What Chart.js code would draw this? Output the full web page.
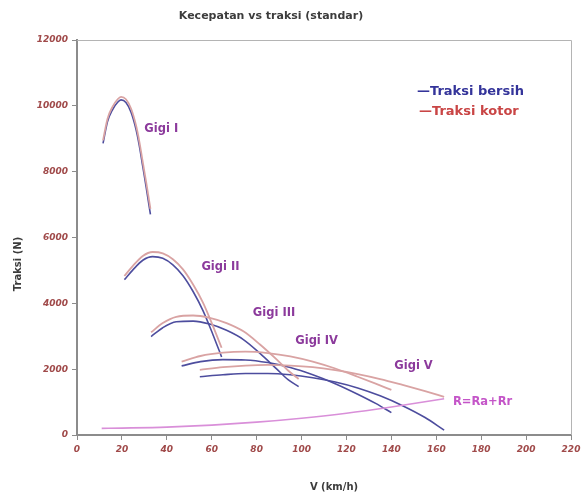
<!DOCTYPE html>
<html>
<head>
<meta charset="utf-8">
<script src="https://cdn.jsdelivr.net/npm/chart.js@4/dist/chart.umd.min.js"></script>
<style>
  html, body { margin: 0; padding: 0; background: #ffffff; }
  #wrap { width: 585px; height: 495px; }
</style>
</head>
<body>
<div id="wrap"><canvas id="c" width="585" height="495"></canvas></div>
<script>
// Kecepatan (km/h) dan traksi (N) per gigi
const gear1Speed  = [11.6, 13.6, 15.8, 18.1, 19.6, 21.8, 24.1, 26.3, 27.8, 29.3, 30.8, 32.7];
const gear1Kotor  = [8950, 9610, 9970, 10200, 10270, 10200, 9910, 9400, 8900, 8290, 7680, 6870];
const gear1Bersih = [8860, 9520, 9880, 10110, 10180, 10100, 9800, 9280, 8770, 8150, 7530, 6700];

const gear2Speed  = [21.1, 24.8, 29.3, 33.7, 38.2, 42.7, 47.2, 51.7, 56.1, 60.6, 64.4];
const gear2Kotor  = [4830, 5130, 5440, 5560, 5520, 5340, 5030, 4570, 4020, 3300, 2650];
const gear2Bersih = [4720, 5010, 5310, 5420, 5370, 5170, 4840, 4360, 3780, 3040, 2370];

const gear3Speed  = [33.0, 38.2, 44.2, 51.7, 59.1, 66.6, 74.1, 81.5, 89.0, 94.0, 98.7];
const gear3Kotor  = [3120, 3400, 3590, 3630, 3560, 3400, 3150, 2750, 2290, 1960, 1700];
const gear3Bersih = [2990, 3260, 3440, 3460, 3370, 3180, 2900, 2480, 2000, 1680, 1470];

const gear4Speed  = [46.6, 55, 65, 75, 85, 95, 105, 115, 125, 133, 140];
const gear4Kotor  = [2230, 2400, 2500, 2530, 2490, 2390, 2230, 2020, 1770, 1560, 1370];
const gear4Bersih = [2100, 2230, 2290, 2280, 2200, 2050, 1830, 1560, 1240, 960, 680];

const gear5Speed  = [54.7, 65, 75, 85, 95, 105, 115, 125, 135, 145, 155, 163.5];
const gear5Kotor  = [1980, 2060, 2110, 2130, 2110, 2060, 1970, 1850, 1700, 1520, 1330, 1160];
const gear5Bersih = [1770, 1830, 1870, 1870, 1830, 1740, 1610, 1430, 1190, 890, 530, 150];

// Hambatan total R = Ra + Rr
const resistSpeed = [11, 20, 40, 60, 80, 100, 120, 140, 163.5];
const resistForce = [200, 210, 240, 300, 390, 510, 660, 850, 1100];

// Sumbu
const xTicks = [0, 20, 40, 60, 80, 100, 120, 140, 160, 180, 200, 220];
const yTicks = [0, 2000, 4000, 6000, 8000, 10000, 12000];

// Teks keterangan kurva: [teks, kecepatan, traksi, warna]
const curveLabels = [
  ['Gigi I', 30.0, 9300, '#8c3a9c'],
  ['Gigi II', 55.4, 5090, '#8c3a9c'],
  ['Gigi III', 78.3, 3710, '#8c3a9c'],
  ['Gigi IV', 97.2, 2845, '#8c3a9c'],
  ['Gigi V', 141.3, 2083, '#8c3a9c'],
  ['R=Ra+Rr', 167.4, 1015, '#c455c8']
];

const COLOR_BERSIH = '#4d4d9e';
const COLOR_KOTOR = '#d9a3a3';
const COLOR_R = '#d98fd9';
const FONT = '"DejaVu Sans", Verdana, sans-serif';

function pts(xs, ys) { return xs.map((x, i) => ({ x: x, y: ys[i] })); }

function line(label, xs, ys, color, width) {
  return {
    label: label,
    data: pts(xs, ys),
    showLine: true,
    borderColor: color,
    backgroundColor: color,
    borderWidth: width,
    pointRadius: 0,
    pointHoverRadius: 0,
    cubicInterpolationMode: 'monotone',
    fill: false
  };
}

const datasets = [
  line('R=Ra+Rr', resistSpeed, resistForce, COLOR_R, 1.6),
  line('Gigi V kotor', gear5Speed, gear5Kotor, COLOR_KOTOR, 1.8),
  line('Gigi IV kotor', gear4Speed, gear4Kotor, COLOR_KOTOR, 1.8),
  line('Gigi III kotor', gear3Speed, gear3Kotor, COLOR_KOTOR, 1.8),
  line('Gigi II kotor', gear2Speed, gear2Kotor, COLOR_KOTOR, 1.8),
  line('Gigi I kotor', gear1Speed, gear1Kotor, COLOR_KOTOR, 1.8),
  line('Gigi V bersih', gear5Speed, gear5Bersih, COLOR_BERSIH, 1.6),
  line('Gigi IV bersih', gear4Speed, gear4Bersih, COLOR_BERSIH, 1.6),
  line('Gigi III bersih', gear3Speed, gear3Bersih, COLOR_BERSIH, 1.6),
  line('Gigi II bersih', gear2Speed, gear2Bersih, COLOR_BERSIH, 1.6),
  line('Gigi I bersih', gear1Speed, gear1Bersih, COLOR_BERSIH, 1.6)
];

// Bingkai, judul, label sumbu, legenda dan label kurva
const decorations = {
  id: 'decorations',
  beforeDatasetsDraw(chart) {
    const { ctx, chartArea: a } = chart;
    ctx.save();
    ctx.strokeStyle = '#b4b4b4';
    ctx.lineWidth = 1;
    ctx.beginPath();
    ctx.moveTo(a.left, a.top + 0.5);
    ctx.lineTo(a.right + 0.5, a.top + 0.5);
    ctx.lineTo(a.right + 0.5, a.bottom);
    ctx.stroke();
    ctx.restore();
  },
  afterDraw(chart) {
    const { ctx, scales } = chart;
    ctx.save();
    // judul
    ctx.fillStyle = '#3c3c3c';
    ctx.font = 'bold 11px ' + FONT;
    ctx.textAlign = 'center';
    ctx.textBaseline = 'middle';
    ctx.fillText('Kecepatan vs traksi (standar)', 271, 16);
    // judul sumbu x
    ctx.font = 'bold 10px ' + FONT;
    ctx.fillText('V (km/h)', 334, 487);
    // judul sumbu y
    ctx.save();
    ctx.translate(18, 264);
    ctx.rotate(-Math.PI / 2);
    ctx.fillText('Traksi (N)', 0, 0);
    ctx.restore();
    // legenda
    ctx.textAlign = 'left';
    ctx.font = 'bold 13px ' + FONT;
    ctx.fillStyle = '#34349a';
    ctx.fillText('\u2014Traksi bersih', 417, 92);
    ctx.fillStyle = '#c94545';
    ctx.fillText('\u2014Traksi kotor', 419, 112);
    // label kurva
    ctx.font = 'bold 11.5px ' + FONT;
    curveLabels.forEach(([text, v, f, color]) => {
      ctx.fillStyle = color;
      ctx.fillText(text, scales.x.getPixelForValue(v), scales.y.getPixelForValue(f));
    });
    ctx.restore();
  }
};

const tickFont = { family: FONT, size: 9, style: 'italic', weight: 'bold' };

new Chart(document.getElementById('c'), {
  type: 'scatter',
  data: { datasets: datasets },
  options: {
    responsive: false,
    animation: false,
    devicePixelRatio: 1,
    layout: { padding: { top: 40, right: 14, left: 0, bottom: 0 } },
    plugins: {
      legend: { display: false },
      tooltip: { enabled: false },
      title: { display: false }
    },
    scales: {
      x: {
        type: 'linear',
        min: 0,
        max: 220,
        afterBuildTicks(scale) { scale.ticks = xTicks.map(v => ({ value: v })); },
        afterFit(scale) { scale.height = 60; },
        ticks: {
          color: '#a04a4a',
          font: tickFont,
          padding: 4,
          maxRotation: 0,
          callback: v => String(v)
        },
        grid: { drawOnChartArea: false, tickLength: 5, color: '#8c8c8c' },
        border: { display: true, color: '#8c8c8c', width: 2 }
      },
      y: {
        type: 'linear',
        min: 0,
        max: 12000,
        afterBuildTicks(scale) { scale.ticks = yTicks.map(v => ({ value: v })); },
        afterFit(scale) { scale.width = 77; },
        ticks: {
          color: '#a04a4a',
          font: tickFont,
          padding: 4,
          callback: v => String(v)
        },
        grid: { drawOnChartArea: false, tickLength: 5, color: '#8c8c8c' },
        border: { display: true, color: '#8c8c8c', width: 2 }
      }
    }
  },
  plugins: [decorations]
});
</script>
</body>
</html>
